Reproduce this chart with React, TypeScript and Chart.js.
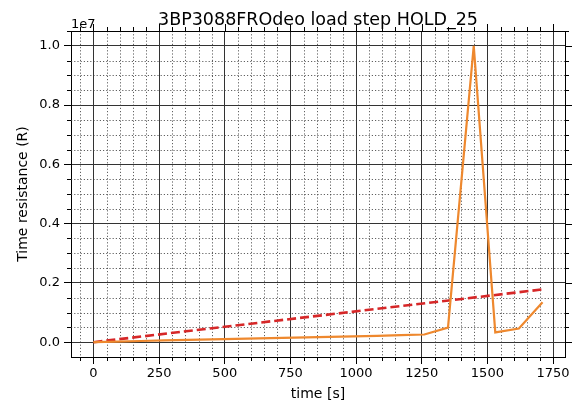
import React, { useEffect, useRef } from "react";
import { Chart, registerables } from "chart.js";
Chart.register(...registerables);

const titleText = "3BP3088FROdeo load step HOLD_25";
const xTitle = "time [s]";
const yTitle = "Time resistance (R)";
const exponentLabel = "1e7";

const timeS = [0, 90, 180, 270, 360, 450, 540, 630, 720, 810, 900, 990, 1080, 1170, 1260, 1350, 1448, 1530, 1620, 1710];
const resistance = [0, 20000, 40000, 60000, 80000, 95000, 110000, 130000, 145000, 160000, 180000, 195000, 210000, 235000, 260000, 490000, 10000000, 330000, 460000, 1350000];
const trendTime = [0, 1710];
const trendValues = [0, 1780000];

const xTicks = [0, 250, 500, 750, 1000, 1250, 1500, 1750];
const yTicks = [0, 2000000, 4000000, 6000000, 8000000, 10000000];

const X_MIN = -85.5;
const X_MAX = 1795.5;
const Y_MIN = -500000;
const Y_MAX = 10500000;
const FONT = "'DejaVu Sans', sans-serif";

const minorPlugin = {
  id: "mplDecor",
  beforeDatasetsDraw(chart: any) {
    const { ctx, chartArea: a, scales } = chart;
    const xs = scales.x;
    const ys = scales.y;
    const xMinor: number[] = [];
    for (let v = -50; v <= X_MAX; v += 50) if (v >= X_MIN && v % 250 !== 0) xMinor.push(v);
    const yMinor: number[] = [];
    for (let v = -500000; v <= Y_MAX; v += 500000) if (v > Y_MIN && v % 2000000 !== 0) yMinor.push(v);
    ctx.save();
    ctx.strokeStyle = "rgba(60,60,60,0.9)";
    ctx.lineWidth = 0.9;
    ctx.setLineDash([1.2, 2]);
    ctx.beginPath();
    xMinor.forEach((v) => {
      const px = Math.round(xs.getPixelForValue(v)) + 0.5;
      ctx.moveTo(px, a.top);
      ctx.lineTo(px, a.bottom);
    });
    yMinor.forEach((v) => {
      const py = Math.round(ys.getPixelForValue(v)) + 0.5;
      ctx.moveTo(a.left, py);
      ctx.lineTo(a.right, py);
    });
    ctx.stroke();
    ctx.setLineDash([]);
    ctx.strokeStyle = "#000";
    ctx.lineWidth = 1;
    ctx.beginPath();
    xMinor.forEach((v) => {
      const px = Math.round(xs.getPixelForValue(v)) + 0.5;
      ctx.moveTo(px, a.bottom);
      ctx.lineTo(px, a.bottom + 4);
      ctx.moveTo(px, a.top);
      ctx.lineTo(px, a.top - 4);
    });
    xTicks.forEach((v) => {
      const px = Math.round(xs.getPixelForValue(v)) + 0.5;
      ctx.moveTo(px, a.top);
      ctx.lineTo(px, a.top - 7);
    });
    yMinor.forEach((v) => {
      const py = Math.round(ys.getPixelForValue(v)) + 0.5;
      ctx.moveTo(a.left, py);
      ctx.lineTo(a.left - 4, py);
      ctx.moveTo(a.right, py);
      ctx.lineTo(a.right + 4, py);
    });
    yTicks.forEach((v) => {
      const py = Math.round(ys.getPixelForValue(v)) + 0.5;
      ctx.moveTo(a.right, py);
      ctx.lineTo(a.right + 7, py);
    });
    ctx.stroke();
    ctx.beginPath();
    ctx.moveTo(a.left, Math.round(a.top) + 0.5);
    ctx.lineTo(a.right, Math.round(a.top) + 0.5);
    ctx.moveTo(Math.round(a.right) + 0.5, a.top);
    ctx.lineTo(Math.round(a.right) + 0.5, a.bottom);
    ctx.stroke();
    ctx.restore();
  },
  afterDraw(chart: any) {
    const { ctx, chartArea: a } = chart;
    ctx.save();
    ctx.fillStyle = "#000";
    ctx.textAlign = "center";
    ctx.textBaseline = "alphabetic";
    ctx.font = `17.5px ${FONT}`;
    ctx.fillText(titleText, (a.left + a.right) / 2, 25);
    ctx.font = `13px ${FONT}`;
    ctx.textAlign = "left";
    ctx.fillText(exponentLabel, a.left, 28);
    ctx.font = `14px ${FONT}`;
    ctx.textAlign = "center";
    ctx.fillText(xTitle, (a.left + a.right) / 2, 398);
    ctx.translate(27, (a.top + a.bottom) / 2);
    ctx.rotate(-Math.PI / 2);
    ctx.fillText(yTitle, 0, 0);
    ctx.restore();
  },
};

export default function App() {
  const ref = useRef<HTMLCanvasElement>(null);
  useEffect(() => {
    document.body.style.margin = "0";
    const chart = new Chart(ref.current as HTMLCanvasElement, {
      type: "line",
      data: {
        datasets: [
          {
            data: timeS.map((t, i) => ({ x: t, y: resistance[i] })),
            borderColor: "rgb(238,136,46)",
            borderWidth: 2.2,
            pointRadius: 0,
            tension: 0,
          },
          {
            data: trendTime.map((t, i) => ({ x: t, y: trendValues[i] })),
            borderColor: "#d62728",
            borderWidth: 2.6,
            borderDash: [9, 4],
            pointRadius: 0,
            tension: 0,
          },
        ],
      },
      options: {
        responsive: false,
        animation: false,
        layout: { padding: { top: 31, right: 23, left: 0, bottom: 0 } },
        plugins: { legend: { display: false }, tooltip: { enabled: false }, title: { display: false } },
        scales: {
          x: {
            type: "linear",
            min: X_MIN,
            max: X_MAX,
            afterBuildTicks: (s: any) => {
              s.ticks = xTicks.map((v) => ({ value: v }));
            },
            afterFit: (s: any) => {
              s.height = 50;
            },
            ticks: { color: "#000", font: { family: FONT, size: 13 }, padding: 2, maxRotation: 0, autoSkip: false, callback: (v: any) => String(v) },
            grid: { color: "#333", lineWidth: 1, tickLength: 7, tickColor: "#000" },
            border: { color: "#000", width: 1 },
          },
          y: {
            type: "linear",
            min: Y_MIN,
            max: Y_MAX,
            afterBuildTicks: (s: any) => {
              s.ticks = yTicks.map((v) => ({ value: v }));
            },
            afterFit: (s: any) => {
              s.width = 71;
            },
            ticks: { color: "#000", font: { family: FONT, size: 13 }, padding: 4, autoSkip: false, callback: (v: any) => (Number(v) / 1e7).toFixed(1) },
            grid: { color: "#333", lineWidth: 1, tickLength: 7, tickColor: "#000" },
            border: { color: "#000", width: 1 },
          },
        },
      },
      plugins: [minorPlugin],
    });
    return () => chart.destroy();
  }, []);
  return <canvas ref={ref} width={588} height={407} />;
}
